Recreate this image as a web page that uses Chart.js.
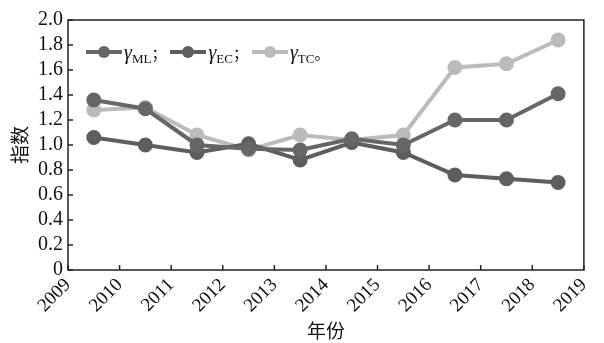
<!DOCTYPE html>
<html>
<head>
<meta charset="utf-8">
<script src="https://cdn.jsdelivr.net/npm/chart.js@4.4.0/dist/chart.umd.min.js"></script>
<style>
  html, body { margin: 0; padding: 0; background: #fff; }
  #wrap { position: relative; width: 604px; height: 343px; }
  #legend { position: absolute; left: 86px; top: 41px; font-family: "Liberation Serif", serif; font-size: 20px; color: #111; white-space: nowrap; }
  #legend .item { display: inline-block; margin-right: 4px; }
  #legend .sw { display: inline-block; position: relative; width: 36px; height: 4px; vertical-align: middle; margin-right: 2px; top: -2px; }
  #legend .sw i { position: absolute; left: 12px; top: -4px; width: 12px; height: 12px; border-radius: 50%; }
  #legend .g { font-style: italic; }
  #legend sub { font-size: 13px; vertical-align: -4px; }
  #legend .p { font-family: "Noto Sans CJK SC"; font-size: 15px; }
</style>
</head>
<body>
<div id="wrap">
  <canvas id="chart" width="604" height="343"></canvas>
  <div id="legend"></div>
</div>
<script>

var yearTicks = [2009, 2010, 2011, 2012, 2013, 2014, 2015, 2016, 2017, 2018, 2019];
var pointX = [2009.5, 2010.5, 2011.5, 2012.5, 2013.5, 2014.5, 2015.5, 2016.5, 2017.5, 2018.5];

var mlValues = [1.36, 1.29, 1.00, 0.97, 0.96, 1.05, 1.00, 1.20, 1.20, 1.41];
var ecValues = [1.06, 1.00, 0.94, 1.01, 0.88, 1.02, 0.94, 0.76, 0.73, 0.70];
var tcValues = [1.28, 1.30, 1.08, 0.96, 1.08, 1.04, 1.08, 1.62, 1.65, 1.84];

var seriesNames = ["ML", "EC", "TC"];
var seriesEnds = ["；", "；", "。"];
var seriesColors = ["#666666", "#5e5e5e", "#bbbbbb"];

var serif = "'Liberation Serif', 'Times New Roman', serif";
var cjk = "'Noto Sans CJK SC', sans-serif";
Chart.defaults.font.family = serif;

function toPoints(vals) {
	return vals.map(function (v, i) { return { x: pointX[i], y: v }; });
}

var datasets = [mlValues, ecValues, tcValues].map(function (vals, i) {
	return {
		label : "γ" + seriesNames[i],
		data : toPoints(vals),
		borderColor : seriesColors[i],
		backgroundColor : seriesColors[i],
		borderWidth : 4,
		pointRadius : 5.5,
		pointHoverRadius : 5.5,
		tension : 0
	};
});

// inward tick marks and the frame round the plot
var framePlugin = {
	id : "frame",
	afterDraw : function (chart) {
		var c = chart.ctx, a = chart.chartArea;
		var xs = chart.scales.x, ys = chart.scales.y;
		c.save();
		c.strokeStyle = "#222";
		c.lineWidth = 1.5;
		c.strokeRect(a.left, a.top, a.right - a.left, a.bottom - a.top);
		c.beginPath();
		xs.ticks.forEach(function (t, i) {
			var px = xs.getPixelForTick(i);
			c.moveTo(px, a.bottom);
			c.lineTo(px, a.bottom - 5);
		});
		ys.ticks.forEach(function (t, i) {
			var py = ys.getPixelForTick(i);
			c.moveTo(a.left, py);
			c.lineTo(a.left + 5, py);
		});
		c.stroke();
		c.restore();
	}
};

var ctx = document.getElementById("chart");

var chart = new Chart(ctx, {
	type : "line",
	data : { datasets : datasets },
	plugins : [framePlugin],
	options : {
		responsive : false,
		animation : false,
		layout : { padding : { top : 20, right : 17, left : 0, bottom : 0 } },
		plugins : {
			legend : { display : false },
			tooltip : { enabled : false }
		},
		scales : {
			x : {
				type : "linear",
				min : 2009,
				max : 2019,
				afterBuildTicks : function (scale) {
					scale.ticks = yearTicks.map(function (v) { return { value : v }; });
				},
				afterFit : function (scale) { scale.height = 73; },
				grid : { display : false, drawTicks : false },
				border : { display : false },
				ticks : {
					autoSkip : false,
					minRotation : 45,
					maxRotation : 45,
					padding : 4,
					color : "#111",
					font : { family : serif, size : 19 },
					callback : function (v) { return String(v); }
				},
				title : {
					display : true,
					text : "年份",
					color : "#111",
					padding : { top : 0, bottom : 1 },
					font : { family : cjk, size : 19 }
				}
			},
			y : {
				min : 0,
				max : 2.0,
				afterFit : function (scale) { scale.width = 68; },
				grid : { display : false, drawTicks : false },
				border : { display : false },
				ticks : {
					autoSkip : false,
					stepSize : 0.2,
					padding : 5,
					color : "#111",
					font : { family : serif, size : 20 },
					callback : function (v) {
						return Math.abs(v) < 1e-9 ? "0" : v.toFixed(1);
					}
				},
				title : {
					display : true,
					text : "指数",
					color : "#111",
					padding : { top : 8, bottom : 0 },
					font : { family : cjk, size : 19 }
				}
			}
		}
	}
});

// legend with subscripts
var legendEl = document.getElementById("legend");
seriesNames.forEach(function (name, i) {
	var item = document.createElement("span");
	item.className = "item";
	item.innerHTML = '<span class="sw" style="background:' + seriesColors[i] + '"><i style="background:' + seriesColors[i] + '"></i></span>' +
		'<span class="g">γ</span><sub>' + name + '</sub><span class="p">' + seriesEnds[i] + '</span>';
	legendEl.appendChild(item);
});

</script>
</body>
</html>
